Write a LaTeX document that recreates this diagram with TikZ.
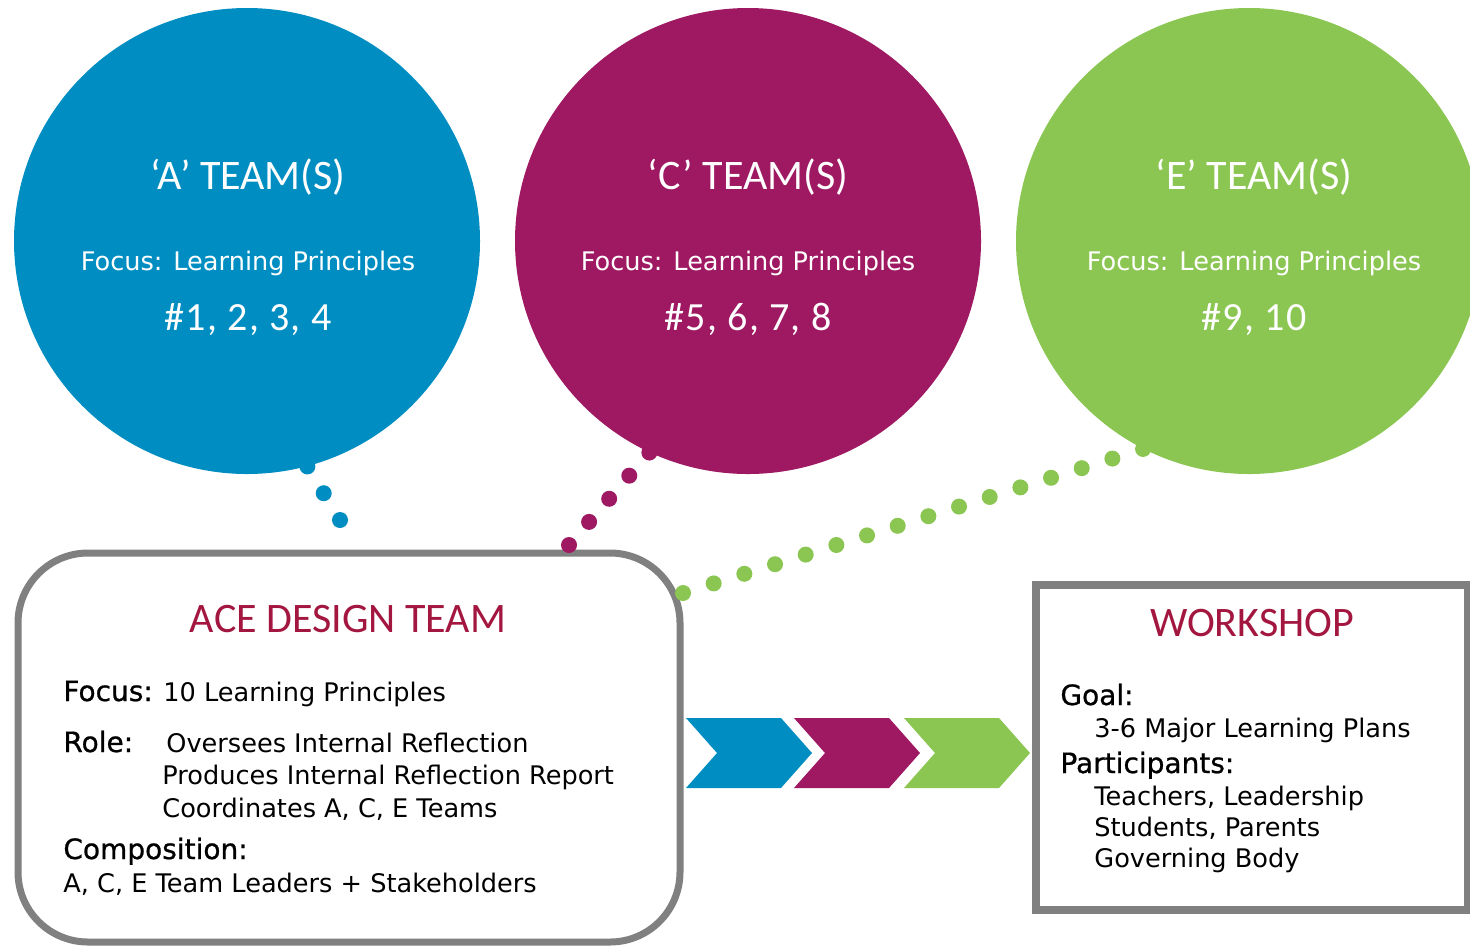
\documentclass[tikz,border=0pt]{standalone}
\usepackage{fontspec}
\setmainfont{DejaVu Sans}
\newfontfamily\titlefont{Carlito}
\newfontfamily\labelfont{DejaVu Sans}[FakeBold=0.8]
\usetikzlibrary{calc}
\definecolor{teamblue}{HTML}{008EC2}
\definecolor{teammagenta}{HTML}{9E1862}
\definecolor{teamgreen}{HTML}{8BC653}
\definecolor{titlered}{HTML}{A3163F}
\definecolor{framegray}{HTML}{808080}
\tikzset{teamcircle/.style={
    circle,
    inner sep=0pt,
    minimum size=233pt}}
\tikzset{teamtitle/.style={
    text=white,
    anchor=base,
    font=\titlefont\fontsize{21}{25}\selectfont}}
\tikzset{teamfocus/.style={
    text=white,
    anchor=base,
    font=\fontsize{12.8}{15}\selectfont}}
\tikzset{teamnums/.style={
    text=white,
    anchor=base,
    font=\titlefont\addfontfeature{LetterSpace=3}\fontsize{20}{24}\selectfont}}
\tikzset{boxtitle/.style={
    text=titlered,
    anchor=base,
    font=\titlefont\fontsize{21}{25}\selectfont}}
\tikzset{boxlabel/.style={
    anchor=base west,
    inner sep=0pt,
    font=\labelfont\fontsize{14}{17}\selectfont}}
\tikzset{boxtext/.style={
    anchor=base west,
    inner sep=0pt,
    font=\fontsize{12.8}{15}\selectfont}}
\begin{document}
\begin{tikzpicture}[x=0.5pt,y=-0.5pt]
\useasboundingbox (0,0) rectangle (1470,949);
\coordinate (adots) at (340,520);
\coordinate (cdots) at (569,545);
\coordinate (edots) at (683,593);

\node[teamcircle,fill=teamblue] (ateam) at (247,241) {};
\node[teamcircle,fill=teammagenta] (cteam) at (748,241) {};
\node[teamcircle,fill=teamgreen] (eteam) at (1249,241) {};

\node[teamtitle] (atitle) at (248,189) {‘A’ TEAM(S)};
\node[teamfocus] (afocus) at (248,270) {Focus: Learning Principles};
\node[teamnums] (anums) at (248,330) {\#1, 2, 3, 4};
\node[teamtitle] (ctitle) at (748,189) {‘C’ TEAM(S)};
\node[teamfocus] (cfocus) at (748,270) {Focus: Learning Principles};
\node[teamnums] (cnums) at (748,330) {\#5, 6, 7, 8};
\node[teamtitle] (etitle) at (1254,189) {‘E’ TEAM(S)};
\node[teamfocus] (efocus) at (1254,270) {Focus: Learning Principles};
\node[teamnums] (enums) at (1254,330) {\#9, 10};

\node[draw=framegray,line width=3.5pt,rounded corners=35pt,
  minimum width=331pt,minimum height=194.5pt] (ace) at (349,747.5) {};
\node[draw=framegray,line width=4pt,
  minimum width=216pt,minimum height=162.5pt] (workshop) at (1252,747.5) {};

\foreach \i in {0,...,2}
  \fill[teamblue] ($(ateam.-75)!\i/2!(adots)$) circle (4pt);
\foreach \i in {0,...,4}
  \fill[teammagenta] ($(cteam.245)!\i/4!(cdots)$) circle (4pt);
\foreach \i in {0,...,15}
  \fill[teamgreen] ($(eteam.243)!\i/15!(edots)$) circle (4pt);

\foreach \xpos/\col in {686/teamblue,794/teammagenta,904/teamgreen}
  \fill[\col] (\xpos,718) -- ++(95,0) -- ++(31,35) -- ++(-31,35)
    -- ++(-95,0) -- ++(31,-35) -- cycle;

\node[boxtitle] (acetitle) at (348,632) {ACE DESIGN TEAM};
\node[boxlabel] (focuslbl) at (63,701) {Focus:};
\node[boxtext] (focustxt) at (163,701) {10 Learning Principles};
\node[boxlabel] (rolelbl) at (63,752) {Role:};
\node[boxtext] (role1) at (166,752) {Oversees Internal Reflection};
\node[boxtext] (role2) at (162,784) {Produces Internal Reflection Report};
\node[boxtext] (role3) at (162,817) {Coordinates A, C, E Teams};
\node[boxlabel] (complbl) at (63,859) {Composition:};
\node[boxtext] (comptxt) at (63,892) {A, C, E Team Leaders + Stakeholders};

\node[boxtitle] (wstitle) at (1252,636) {WORKSHOP};
\node[boxlabel] (goallbl) at (1060,705) {Goal:};
\node[boxtext] (goaltxt) at (1094,737) {3-6 Major Learning Plans};
\node[boxlabel] (partlbl) at (1060,773) {Participants:};
\node[boxtext] (part1) at (1094,805) {Teachers, Leadership};
\node[boxtext] (part2) at (1094,836) {Students, Parents};
\node[boxtext] (part3) at (1094,867) {Governing Body};
\end{tikzpicture}
\end{document}
